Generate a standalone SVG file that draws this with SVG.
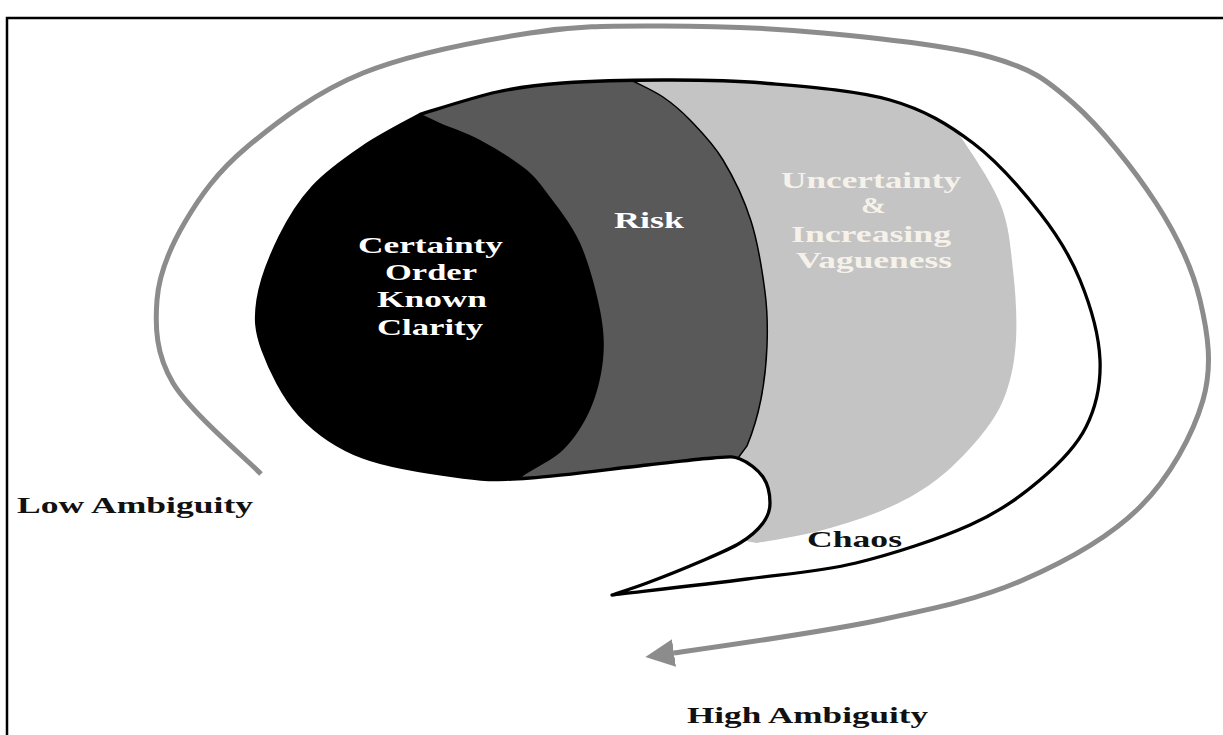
<svg xmlns="http://www.w3.org/2000/svg" width="1223" height="735" viewBox="0 0 1223 735">
  <style>
    .lbl { font-family: "Liberation Serif", "Times New Roman", serif; font-weight: bold; font-size: 24px; }
    .inv { fill: #ffffff; }
    .pale { fill: #f6f2ea; }
    .dark { fill: #111111; }
    .ring { fill: none; stroke: #8c8c8c; stroke-width: 5; stroke-linecap: butt; }
  </style>
  <defs>
    <!-- outline of the speech-bubble shaped body -->
    <path id="bubble" d="M421,114 C433.7,110.3 473.3,97.2 497,92 C520.7,86.8 535.3,85 563,83 C590.7,81 629.7,80 663,80 C696.3,80 725.2,79.7 763,83 C800.8,86.3 855,90 890,100 C925,110 948,124.2 973,143 C998,161.8 1022.2,190.2 1040,213 C1057.8,235.8 1070,255.5 1080,280 C1090,304.5 1099,335.5 1100,360 C1101,384.5 1096,407 1086,427 C1076,447 1059.3,463.7 1040,480 C1020.7,496.3 1000.7,511.2 970,525 C939.3,538.8 893.2,554 856,563 C818.8,572 787.7,573.7 747,579 C706.3,584.3 634.5,592.3 612,595 C617.8,593 632.8,588.3 647,583 C661.2,577.7 681.5,569.7 697,563 C712.5,556.3 729,549.7 740,543 C751,536.3 758,529.7 763,523 C768,516.3 770,510.7 770,503 C770,495.3 768,484.3 763,477 C758,469.7 748.3,462.2 740,459 C731.7,455.8 728.5,457 713,458 C697.5,459 677.5,461.7 647,465 C616.5,468.3 560.7,476 530,478 C499.3,480 490.8,480.5 463,477 C435.2,473.5 390.2,467.3 363,457 C335.8,446.7 316.7,432.8 300,415 C283.3,397.2 270,369.2 263,350 C256,330.8 255.2,318.8 258,300 C260.8,281.2 270.8,255.8 280,237 C289.2,218.2 299.2,202 313,187 C326.8,172 345,159.2 363,147 C381,134.8 411.3,119.5 421,114 Z"/>
    <clipPath id="bubbleClip">
      <use href="#bubble"/>
    </clipPath>
    <marker id="head" markerUnits="userSpaceOnUse" markerWidth="30" markerHeight="30" viewBox="0 -14 28 28" refX="0" refY="0" orient="auto">
      <path d="M0,-13 L27,0 L0,13 Z" fill="#8c8c8c"/>
    </marker>
  </defs>

  <!-- page frame -->
  <rect x="7" y="18" width="1230" height="730" fill="none" stroke="#000" stroke-width="2.5"/>

  <!-- ambiguity sweep around the body -->
  <g id="connectors">
    <path class="ring" marker-end="url(#head)" d="M261,474 C246.3,458.8 190.3,412 173,383 C155.7,354 155,326.8 157,300 C159,273.2 170,247.5 185,222 C200,196.5 217.3,171.8 247,147 C276.7,122.2 315.8,92 363,73 C410.2,54 480,40.8 530,33 C580,25.2 614.2,26 663,26 C711.8,26 768.5,27.8 823,33 C877.5,38.2 948.3,45.3 990,57 C1031.7,68.7 1045.3,78.7 1073,103 C1100.7,127.3 1134.8,170.2 1156,203 C1177.2,235.8 1192.2,267.2 1200,300 C1207.8,332.8 1213,365.5 1203,400 C1193,434.5 1170,477 1140,507 C1110,537 1066.3,561.2 1023,580 C979.7,598.8 938.5,607.7 880,620 C821.5,632.3 706.7,648.3 674,653"/>
  </g>

  <!-- layered body: white base, uncertainty, risk, certainty -->
  <g id="body">
    <use href="#bubble" fill="#ffffff"/>
    <g clip-path="url(#bubbleClip)">
      <path id="uncertainty-band" fill="#c4c4c4" d="M600,40 L900,40 L920,85 C926,92.5 942.7,110.3 956,130 C969.3,149.7 990.5,179.7 1000,203 C1009.5,226.3 1010.3,247.2 1013,270 C1015.7,292.8 1017.2,319.5 1016,340 C1014.8,360.5 1011.5,377.5 1006,393 C1000.5,408.5 994,419 983,433 C972,447 955.5,464.7 940,477 C924.5,489.3 909.5,498.2 890,507 C870.5,515.8 845.2,524 823,530 C800.8,536 771.7,540.5 757,543 L740,540 L700,480 L600,480 Z"/>
      <path id="risk-band" fill="#595959" stroke="#000" stroke-width="1.5" d="M400,40 L625,40 L633,81 C638,83.7 653.5,90.5 663,97 C672.5,103.5 680,109.5 690,120 C700,130.5 712.8,143.2 723,160 C733.2,176.8 744,199 751,221 C758,243 762.3,271.2 765,292 C767.7,312.8 767.7,328.2 767,346 C766.3,363.8 764.3,382.3 761,399 C757.7,415.7 751.3,435.5 747,446 L735,462 L725,490 L400,490 Z"/>
      <path id="certainty-core" fill="#000000" d="M200,90 L421,90 L421,114 L440,123 C449.8,127.3 466.2,132.7 480,140 C493.8,147.3 511.8,158.2 523,167 C534.2,175.8 537.5,180.3 547,193 C556.5,205.7 571.2,223.5 580,243 C588.8,262.5 596.2,290.5 600,310 C603.8,329.5 604.7,343.3 603,360 C601.3,376.7 596.7,395 590,410 C583.3,425 574.2,439 563,450 C551.8,461 531.8,469.3 523,476 L510,495 L200,495 Z"/>
    </g>
    <use href="#bubble" fill="none" stroke="#000" stroke-width="3.3" stroke-linejoin="round"/>
  </g>

  <g id="certainty">
    <text class="lbl inv" x="358" y="253" textLength="145" lengthAdjust="spacingAndGlyphs">Certainty</text>
    <text class="lbl inv" x="385" y="280" textLength="92" lengthAdjust="spacingAndGlyphs">Order</text>
    <text class="lbl inv" x="377" y="307" textLength="110" lengthAdjust="spacingAndGlyphs">Known</text>
    <text class="lbl inv" x="377" y="335" textLength="106" lengthAdjust="spacingAndGlyphs">Clarity</text>
  </g>

  <g id="risk">
    <text class="lbl inv" x="614" y="228" textLength="70" lengthAdjust="spacingAndGlyphs">Risk</text>
  </g>

  <g id="uncertainty">
    <text class="lbl pale" x="781" y="188" textLength="180" lengthAdjust="spacingAndGlyphs">Uncertainty</text>
    <text class="lbl pale" x="861" y="213" textLength="25" lengthAdjust="spacingAndGlyphs">&amp;</text>
    <text class="lbl pale" x="791" y="242" textLength="160" lengthAdjust="spacingAndGlyphs">Increasing</text>
    <text class="lbl pale" x="796" y="268" textLength="156" lengthAdjust="spacingAndGlyphs">Vagueness</text>
  </g>

  <g id="chaos">
    <text class="lbl dark" x="807" y="547" textLength="95" lengthAdjust="spacingAndGlyphs">Chaos</text>
  </g>

  <g id="low-ambiguity">
    <text class="lbl dark" x="17" y="513" textLength="236" lengthAdjust="spacingAndGlyphs">Low Ambiguity</text>
  </g>

  <g id="high-ambiguity">
    <text class="lbl dark" x="687" y="723" textLength="241" lengthAdjust="spacingAndGlyphs">High Ambiguity</text>
  </g>
</svg>
